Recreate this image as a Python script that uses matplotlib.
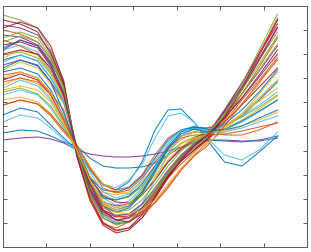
import numpy as np
import matplotlib
matplotlib.use("Agg")
import matplotlib.pyplot as plt

# sample positions along the horizontal axis
x = [0, 20, 40, 55, 70, 85, 100, 115, 130, 145, 160, 175, 190, 205, 220, 235, 255, 275, 295, 316]

# one curve per row
curves = [
    [110, 112, 113, 111, 107, 100, 96, 94, 93, 93, 94, 96, 99, 103, 107, 110, 110, 109, 109, 112],
    [117, 120, 119, 114, 108, 104, 92, 84, 82, 82, 83, 87, 95, 103, 108, 110, 109, 108, 110, 114],
    [135, 142, 138, 125, 112, 100, 80, 65, 60, 68, 88, 120, 140, 141, 128, 110, 88, 84, 98, 114],
    [128, 135, 132, 122, 110, 99, 80, 66, 62, 70, 85, 112, 134, 137, 128, 112, 95, 90, 100, 118],
    [145, 150, 146, 134, 118, 104, 82, 66, 60, 63, 75, 95, 112, 120, 122, 120, 115, 115, 120, 128],
    [150, 153, 148, 136, 120, 105, 84, 66, 58, 56, 62, 74, 88, 100, 108, 113, 118, 124, 130, 138],
    [158, 162, 156, 144, 124, 98, 72, 55, 50, 53, 64, 80, 96, 107, 113, 116, 124, 133, 143, 155],
    [162, 170, 164, 150, 127, 101, 72, 52, 45, 49, 62, 84, 106, 120, 124, 118, 120, 128, 138, 150],
    [170, 176, 170, 155, 130, 102, 72, 54, 48, 47, 55, 70, 88, 102, 112, 118, 128, 145, 163, 182],
    [175, 178, 172, 157, 140, 97, 62, 38, 30, 32, 42, 58, 76, 92, 102, 110, 128, 150, 170, 192],
    [180, 188, 182, 166, 146, 104, 74, 58, 55, 58, 68, 84, 100, 110, 118, 122, 130, 146, 166, 195],
    [185, 190, 185, 168, 148, 100, 66, 48, 44, 46, 55, 70, 88, 101, 110, 116, 134, 156, 179, 204],
    [190, 195, 189, 172, 150, 102, 72, 60, 58, 62, 74, 92, 110, 120, 123, 122, 124, 134, 150, 168],
    [195, 198, 192, 176, 152, 100, 62, 40, 35, 36, 45, 60, 78, 94, 104, 112, 134, 161, 190, 218],
    [200, 205, 198, 180, 155, 101, 60, 35, 28, 32, 46, 70, 96, 114, 121, 120, 124, 134, 145, 158],
    [205, 208, 202, 184, 158, 99, 60, 38, 33, 34, 42, 56, 74, 90, 104, 115, 140, 167, 196, 226],
    [210, 204, 195, 178, 156, 96, 54, 28, 20, 22, 32, 48, 64, 80, 94, 108, 130, 156, 183, 212],
    [192, 200, 195, 178, 150, 101, 64, 44, 40, 44, 58, 76, 94, 106, 112, 115, 122, 136, 156, 178],
    [215, 213, 205, 188, 164, 100, 56, 32, 26, 28, 38, 56, 75, 92, 104, 115, 139, 166, 197, 230],
    [202, 210, 204, 186, 156, 102, 66, 52, 50, 54, 66, 84, 102, 114, 118, 117, 126, 140, 158, 180],
    [235, 230, 222, 200, 170, 95, 56, 34, 27, 29, 39, 57, 76, 91, 102, 112, 137, 166, 200, 236],
    [188, 195, 189, 172, 148, 103, 68, 48, 42, 46, 60, 82, 104, 118, 122, 118, 124, 136, 152, 170],
    [222, 228, 222, 204, 168, 94, 50, 25, 17, 20, 32, 52, 73, 89, 100, 111, 134, 162, 195, 230],
    [220, 216, 208, 192, 164, 95, 50, 26, 22, 28, 40, 56, 72, 86, 98, 110, 134, 162, 196, 232],
    [165, 172, 166, 152, 128, 100, 70, 49, 42, 46, 60, 80, 100, 114, 118, 116, 120, 130, 141, 154],
    [225, 222, 215, 198, 166, 96, 58, 36, 30, 32, 42, 59, 78, 94, 106, 116, 138, 163, 192, 223],
    [178, 182, 176, 160, 133, 101, 68, 46, 40, 44, 58, 80, 103, 118, 123, 121, 120, 124, 132, 140],
    [208, 214, 208, 190, 160, 100, 62, 42, 38, 40, 50, 66, 84, 99, 109, 116, 134, 156, 180, 206],
    [155, 160, 155, 142, 122, 104, 78, 58, 52, 56, 70, 90, 108, 120, 121, 117, 118, 122, 128, 134],
    [230, 226, 218, 196, 166, 94, 52, 27, 19, 22, 35, 54, 74, 89, 100, 110, 133, 160, 190, 222],
    [145, 150, 146, 136, 120, 105, 82, 62, 57, 60, 72, 88, 103, 112, 115, 115, 116, 119, 123, 127],
    [172, 178, 172, 158, 132, 100, 68, 46, 40, 43, 55, 72, 90, 103, 111, 115, 124, 136, 149, 162],
    [200, 210, 204, 186, 156, 100, 62, 40, 34, 36, 46, 62, 80, 95, 106, 115, 132, 152, 173, 196],
    [182, 190, 184, 168, 137, 101, 66, 44, 38, 42, 56, 78, 101, 116, 121, 118, 121, 129, 139, 150],
    [212, 218, 212, 194, 162, 99, 56, 32, 25, 28, 40, 59, 79, 95, 107, 116, 136, 160, 186, 214],
    [196, 200, 196, 182, 154, 102, 66, 40, 30, 28, 36, 52, 72, 90, 104, 114, 132, 152, 175, 200],
    [168, 172, 168, 155, 130, 101, 70, 44, 34, 32, 38, 47, 62, 80, 94, 104, 124, 146, 168, 190],
    [160, 164, 160, 148, 126, 100, 70, 48, 38, 36, 40, 50, 66, 82, 96, 106, 120, 136, 152, 170],
]

# MATLAB default colours
blue, orange, yellow, purple = '#0072BD', '#D95319', '#EDB120', '#7E2F8E'
green, lblue, red = '#77AC30', '#4DBEEE', '#A2142F'
line_colors = [purple, blue, blue, lblue, orange, yellow, green, lblue, red, orange,
               yellow, purple, blue, green, lblue, red, orange, yellow, purple, blue,
               green, lblue, red, orange, yellow, purple, blue, green, lblue, red,
               orange, yellow, purple, blue, green, red, orange, yellow]

fig = plt.figure(figsize=(3.11, 2.52), dpi=100)
ax = fig.add_axes([3 / 311, 5 / 252, 304 / 311, 241 / 252])

for c, col in zip(curves, line_colors):
    ax.plot(x, c, color=col, linewidth=0.75, alpha=0.9)

ax.set_xlim(0, 350)
ax.set_ylim(3, 244)
ax.set_xticks(np.arange(50, 350, 50))
ax.set_yticks(np.arange(27.1, 222, 24.1))
ax.set_xticklabels([])
ax.set_yticklabels([])
ax.tick_params(direction='in', length=3, width=0.6, color='#404040',
               top=True, right=True)
for s in ax.spines.values():
    s.set_color('#404040')
    s.set_linewidth(0.6)

fig.savefig('out.png', dpi=100)
